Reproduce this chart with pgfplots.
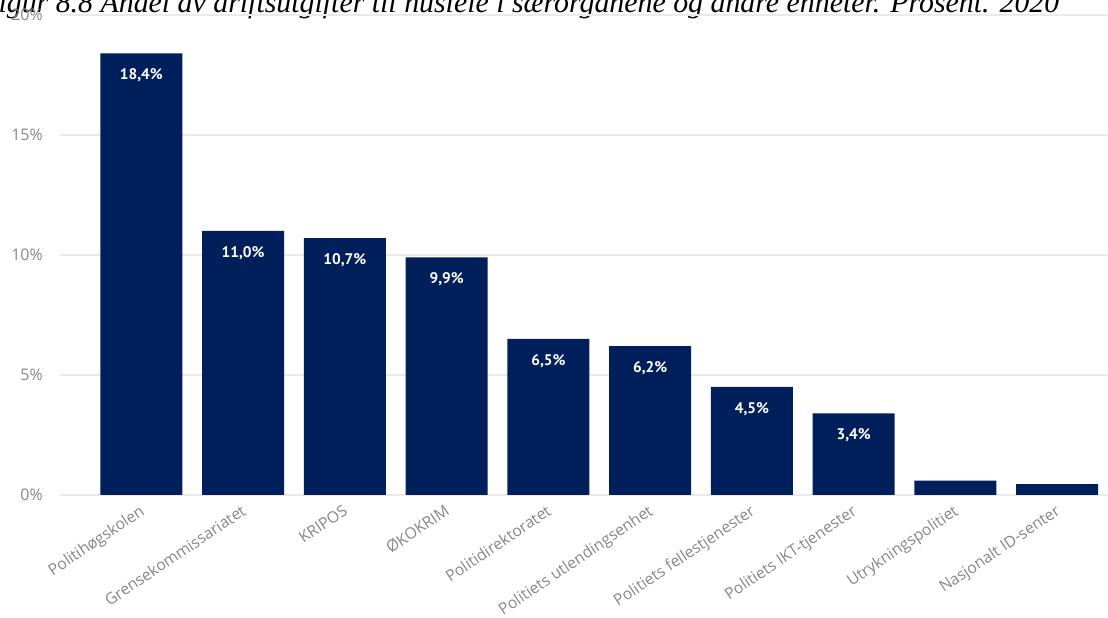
\documentclass[border=0pt]{standalone}
\usepackage{fontspec}
\setmainfont{Open Sans}
\newfontfamily\titlefont{Liberation Serif}
\newfontfamily\dlfont{PT Sans}
\usepackage{pgfplots}
\usepackage{pgfplotstable}
\pgfplotsset{compat=1.18}
\definecolor{navy}{RGB}{0,31,91}
\definecolor{tickgray}{RGB}{135,135,135}
\definecolor{gridgray}{RGB}{234,234,234}

\pgfplotstableread{
x y label
0 18.4 18,4\%
1 11.0 11,0\%
2 10.7 10,7\%
3 9.9 9,9\%
4 6.5 6,5\%
5 6.2 6,2\%
6 4.5 4,5\%
7 3.4 3,4\%
8 0.6 {}
9 0.45 {}
}\data

\begin{document}
\begin{tikzpicture}
\useasboundingbox (0,0) rectangle (831pt,463.5pt);
\node[anchor=base west, inner sep=0pt, font=\titlefont\itshape\fontsize{22.4}{26}\selectfont] at (-15pt,454pt)
  {Figur 8.8 Andel av driftsutgifter til husleie i særorganene og andre enheter. Prosent. 2020};
\begin{axis}[
  at={(45pt,92.25pt)}, anchor=south west,
  scale only axis, width=786pt, height=360pt,
  xmin=-0.8, xmax=9.5, ymin=0, ymax=20,
  axis line style={draw=none},
  tick style={draw=none},
  major tick length=0pt,
  ymajorgrids=true,
  major grid style={gridgray, line width=1.1pt},
  ytick={0,5,10,15,20},
  yticklabels={0\%,5\%,10\%,15\%,20\%},
  yticklabel style={anchor=east, inner sep=0pt, xshift=-12.75pt, text=tickgray, font=\fontsize{12}{14}\selectfont},
  xtick={0,...,9},
  xticklabels={Politihøgskolen,Grensekommissariatet,KRIPOS,ØKOKRIM,Politidirektoratet,Politiets utlendingsenhet,Politiets fellestjenester,Politiets IKT-tjenester,Utrykningspolitiet,Nasjonalt ID-senter},
  xticklabel style={xshift=-2pt, yshift=-6.5pt, rotate=34, anchor=north east, inner sep=0pt, text=tickgray, font=\fontsize{11.8}{14}\selectfont},
  ybar, bar width=61.5pt, bar shift=0pt,
  nodes near coords,
  point meta=explicit symbolic,
  every node near coord/.append style={anchor=center, yshift=-16.5pt, text=white, font=\dlfont\bfseries\fontsize{11.5}{13}\selectfont},
]
\addplot[fill=navy, draw=none] table[x=x, y=y, meta=label] {\data};
\end{axis}
\end{tikzpicture}
\end{document}
